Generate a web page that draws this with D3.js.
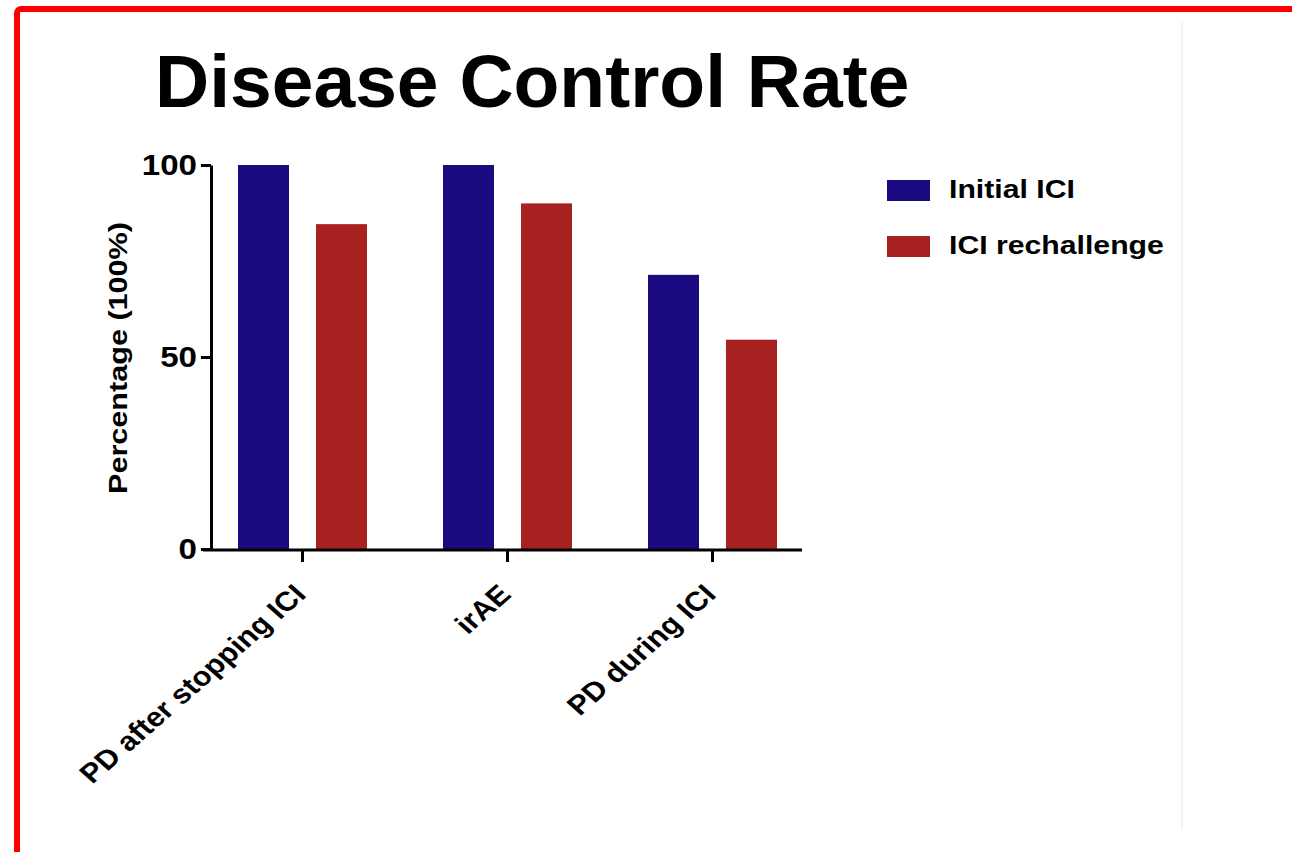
<!DOCTYPE html>
<html>
<head>
<meta charset="utf-8">
<script src="https://cdn.jsdelivr.net/npm/d3@7"></script>
<style>
  html, body { margin: 0; padding: 0; background: #ffffff; }
  svg { display: block; }
  text { font-family: "Liberation Sans", Arial, Helvetica, sans-serif; font-weight: bold; fill: #000; }
</style>
</head>
<body>
<svg id="chart" width="1292" height="852"></svg>
<script>
// ---- data ----
const titleText = "Disease Control Rate";
const categories = ["PD after stopping ICI", "irAE", "PD during ICI"];
const seriesNames = ["Initial ICI", "ICI rechallenge"];
const initialICI = [100, 100, 71.4];
const iciRechallenge = [84.6, 90, 54.5];
const yTicks = [0, 50, 100];
const yLabel = "Percentage (100%)";
const colors = ["#1a0a7f", "#a82121"];

// ---- layout ----
const svg = d3.select("#chart");
const W = 1292, H = 852;
const stretch = 1.14; // chart text is horizontally stretched in the reference

// frame
svg.append("rect")
  .attr("x", 17).attr("y", 9)
  .attr("width", W + 20).attr("height", H + 20)
  .attr("rx", 4)
  .attr("fill", "none")
  .attr("stroke", "#ff0000")
  .attr("stroke-width", 6);

// faint pasted-image edge
svg.append("line")
  .attr("x1", 1182).attr("x2", 1182).attr("y1", 22).attr("y2", 830)
  .attr("stroke", "#f4f4f4").attr("stroke-width", 2);

// title
svg.append("text")
  .attr("x", 155).attr("y", 107)
  .attr("font-size", 75)
  .text(titleText);

const yAxisX = 211;
const y = d3.scaleLinear().domain([0, 100]).range([549, 165]);
const x0 = d3.scaleBand().domain(categories).range([200, 815]).paddingInner(0).paddingOuter(0);
const x1 = d3.scaleBand().domain(seriesNames).range([38, x0.bandwidth() - 38]).paddingInner(0.346).paddingOuter(0);

const rows = categories.map((c, i) => ({ cat: c, vals: [initialICI[i], iciRechallenge[i]] }));

// bars
const g = svg.append("g");
g.selectAll("g.grp").data(rows).join("g")
  .attr("class", "grp")
  .attr("transform", d => `translate(${x0(d.cat)},0)`)
  .selectAll("rect").data(d => d.vals.map((v, j) => ({ s: seriesNames[j], v, j })))
  .join("rect")
  .attr("x", d => x1(d.s))
  .attr("width", x1.bandwidth())
  .attr("y", d => y(d.v))
  .attr("height", d => y(0) - y(d.v))
  .attr("fill", d => colors[d.j]);

// y axis
const yAxis = d3.axisLeft(y).tickValues(yTicks).tickSize(10).tickSizeOuter(0).tickPadding(4);
const gy = svg.append("g").attr("transform", `translate(${yAxisX},0)`).call(yAxis);
gy.select(".domain").attr("stroke", "#000").attr("stroke-width", 3);
gy.selectAll(".tick line").attr("stroke", "#000").attr("stroke-width", 3);
gy.selectAll(".tick text")
  .attr("font-size", 29)
  .attr("font-family", "Liberation Sans, Arial, sans-serif")
  .attr("font-weight", "bold")
  .attr("fill", "#000")
  .each(function() {
    const t = d3.select(this);
    const xx = +t.attr("x");
    t.attr("x", 0).attr("transform", `translate(${xx},0) scale(${stretch},1)`);
  });

// x axis
const baseY = y(0) + 1;
const gx = svg.append("g");
gx.append("line")
  .attr("x1", yAxisX - 8).attr("x2", x0.range()[1] - 13)
  .attr("y1", baseY).attr("y2", baseY)
  .attr("stroke", "#000").attr("stroke-width", 3);
gx.selectAll("line.tick").data(categories).join("line")
  .attr("class", "tick")
  .attr("x1", d => x0(d) + x0.bandwidth() / 2)
  .attr("x2", d => x0(d) + x0.bandwidth() / 2)
  .attr("y1", baseY).attr("y2", baseY + 12)
  .attr("stroke", "#000").attr("stroke-width", 3);
gx.selectAll("text").data(categories).join("text")
  .attr("text-anchor", "end")
  .attr("font-size", 27)
  .attr("transform", d => `translate(${x0(d) + x0.bandwidth() / 2 + 5},${baseY + 46}) scale(${stretch},1) rotate(-45)`)
  .text(d => d);

// y label
svg.append("text")
  .attr("text-anchor", "middle")
  .attr("font-size", 25)
  .attr("textLength", 272)
  .attr("lengthAdjust", "spacingAndGlyphs")
  .attr("transform", `translate(127,358) rotate(-90)`)
  .text(yLabel);

// legend
const lg = svg.append("g");
const legItems = lg.selectAll("g").data(seriesNames).join("g")
  .attr("transform", (d, i) => `translate(887,${180 + i * 56})`);
legItems.append("rect")
  .attr("width", 43).attr("height", 21)
  .attr("fill", (d, i) => colors[i]);
legItems.append("text")
  .attr("transform", `translate(62,18) scale(${stretch},1)`)
  .attr("font-size", 26.5)
  .text(d => d);
</script>
</body>
</html>
